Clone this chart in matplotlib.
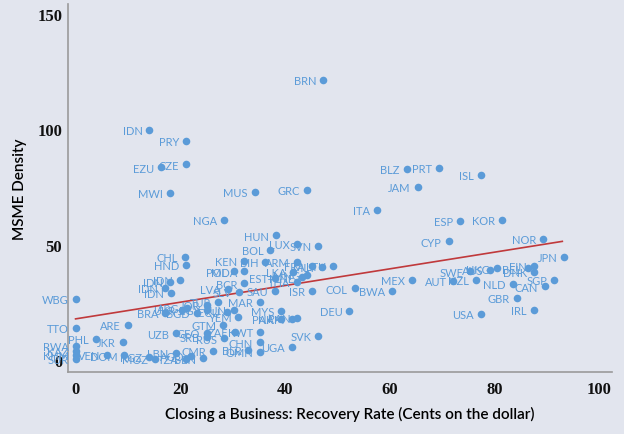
import matplotlib.pyplot as plt

# country codes, recovery rate (cents on the dollar), MSME density
codes = [
    "BRN", "IDN", "PRY", "CZE", "EZU", "MWI", "MUS", "GRC", "NGA", "BLZ",
    "PRT", "ISL", "JAM", "ITA", "ESP", "KOR", "NOR", "CYP", "JPN", "HUN",
    "LUX", "SVN", "BOL", "CHL", "HND", "KEN", "BIH", "ARM", "FRA", "MLT",
    "LTU", "LKA", "MNG", "MNE", "EST", "THA", "SAU", "ISR", "COL", "BWA",
    "MEX", "AUT", "NZL", "SWE", "AUS", "HKG", "BEL", "FIN", "DNK", "SGP",
    "CAN", "NLD", "GBR", "IRL", "USA", "POL", "MDA", "BCR", "LVA", "SLV",
    "IDN", "IDN", "IDN", "IDN", "WBG", "TTO", "ARE", "PHL", "JKR", "RWA",
    "KAZ", "KHM", "SUR", "VEN", "DOM", "KGZ", "MOZ", "LBN", "TZA", "AGO",
    "BEN", "CMR", "UZB", "GEO", "SRB", "RUS", "ZAF", "KWT", "CHN", "BLR",
    "OMN", "UGA", "SVK", "GTM", "YEM", "ECU", "TUN", "BRA", "UKR", "ARG",
    "BGD", "JOR", "EGY", "TUR", "MAR", "MYS", "PAK", "NAM", "PAN", "DEU",
]
recovery = [
    47.3, 14.1, 21.1, 21.1, 16.3, 18.1, 34.2, 44.2, 28.4, 63.3,
    69.4, 77.4, 65.4, 57.5, 73.4, 81.4, 89.4, 71.3, 93.4, 38.3,
    42.3, 46.4, 37.2, 20.9, 21.1, 32.2, 36.2, 42.3, 45.1, 47.1,
    49.2, 41.6, 44.2, 43.2, 38.1, 42.3, 38.2, 45.2, 53.3, 60.4,
    64.3, 72.2, 76.5, 75.4, 79.2, 80.5, 86.5, 87.5, 87.6, 91.5,
    89.6, 83.5, 84.3, 87.5, 77.4, 30.2, 32.2, 32.2, 29.1, 31.2,
    20.0, 18.1, 17.1, 18.2, 0.0, 0.1, 10.0, 3.9, 9.0, 0.0,
    0.0, 0.0, 0.0, 6.0, 9.3, 14.1, 15.1, 19.1, 21.1, 22.1,
    24.3, 26.3, 19.2, 25.1, 25.1, 28.3, 30.4, 35.2, 35.2, 33.0,
    35.2, 41.3, 46.4, 28.2, 31.1, 28.9, 30.2, 17.1, 20.3, 21.2,
    23.2, 25.1, 25.2, 27.2, 35.2, 39.3, 39.2, 41.3, 42.4, 52.3,
]
density = [
    121.4, 99.6, 95.1, 84.8, 83.5, 72.3, 72.7, 73.6, 60.8, 82.7,
    83.2, 80.2, 75.1, 65.2, 60.1, 60.8, 52.6, 51.4, 44.5, 54.0,
    50.4, 49.4, 47.8, 44.5, 41.1, 43.0, 42.5, 42.5, 40.9, 40.4,
    40.6, 38.0, 37.0, 35.8, 35.5, 34.0, 29.9, 29.9, 31.0, 29.9,
    34.7, 34.1, 34.7, 38.4, 39.1, 39.7, 39.7, 40.6, 38.0, 34.7,
    31.9, 32.9, 26.9, 21.8, 19.9, 38.4, 38.4, 33.2, 30.8, 29.5,
    34.8, 33.9, 31.4, 29.2, 26.3, 13.9, 15.2, 9.1, 7.9, 6.2,
    4.0, 2.2, 0.3, 2.2, 2.0, 1.4, 0.4, 3.0, 0.3, 1.9,
    0.7, 3.8, 11.5, 11.8, 10.0, 9.3, 12.0, 12.0, 7.6, 4.5,
    3.4, 5.5, 10.5, 15.2, 18.5, 20.9, 21.6, 20.4, 21.8, 22.7,
    20.4, 23.8, 21.8, 25.3, 25.3, 21.4, 17.8, 17.8, 18.1, 21.4,
]

# linear trend as drawn in the original
trend_x = [0, 93]
trend_y = [17.8, 51.4]

BG = "#e2e5ee"
BLUE = "#5b9bd8"

fig = plt.figure(figsize=(6.24, 4.35), dpi=100, facecolor=BG)
ax = fig.add_axes([0.1085, 0.1432, 0.8715, 0.8453], facecolor=BG)

ax.scatter(recovery, density, s=30, color=BLUE, zorder=3, linewidths=0)
ax.plot(trend_x, trend_y, color="#c0393b", linewidth=1.2, zorder=2)

for code, x, y in zip(codes, recovery, density):
    ax.annotate(code, (x, y), xytext=(-5, -0.5), textcoords="offset points",
                ha="right", va="center", fontsize=8, family="Lato",
                color=BLUE, zorder=4)

ax.set_xlim(-1.5, 102.4)
ax.set_ylim(-5.1, 154.3)
ax.set_xticks([0, 20, 40, 60, 80, 100])
ax.set_yticks([0, 50, 100, 150])

for side in ["top", "right"]:
    ax.spines[side].set_visible(False)
for side in ["left", "bottom"]:
    ax.spines[side].set_color("#9a9a9a")
    ax.spines[side].set_linewidth(1.2)

ax.tick_params(axis="x", length=0, pad=7)
ax.tick_params(axis="y", length=0, pad=4)
for lab in ax.get_xticklabels() + ax.get_yticklabels():
    lab.set_family("Liberation Serif")
    lab.set_fontsize(12)
    lab.set_fontweight("bold")
    lab.set_color("#111111")

ax.set_xlabel("Closing a Business: Recovery Rate (Cents on the dollar)",
              family="Lato", fontsize=11, fontweight="semibold", labelpad=6)
ax.xaxis.label.set_x(0.518)
ax.set_ylabel("MSME Density", family="Lato", fontsize=11,
              fontweight="semibold", labelpad=7)

fig.savefig("out.png", dpi=100, facecolor=BG)
